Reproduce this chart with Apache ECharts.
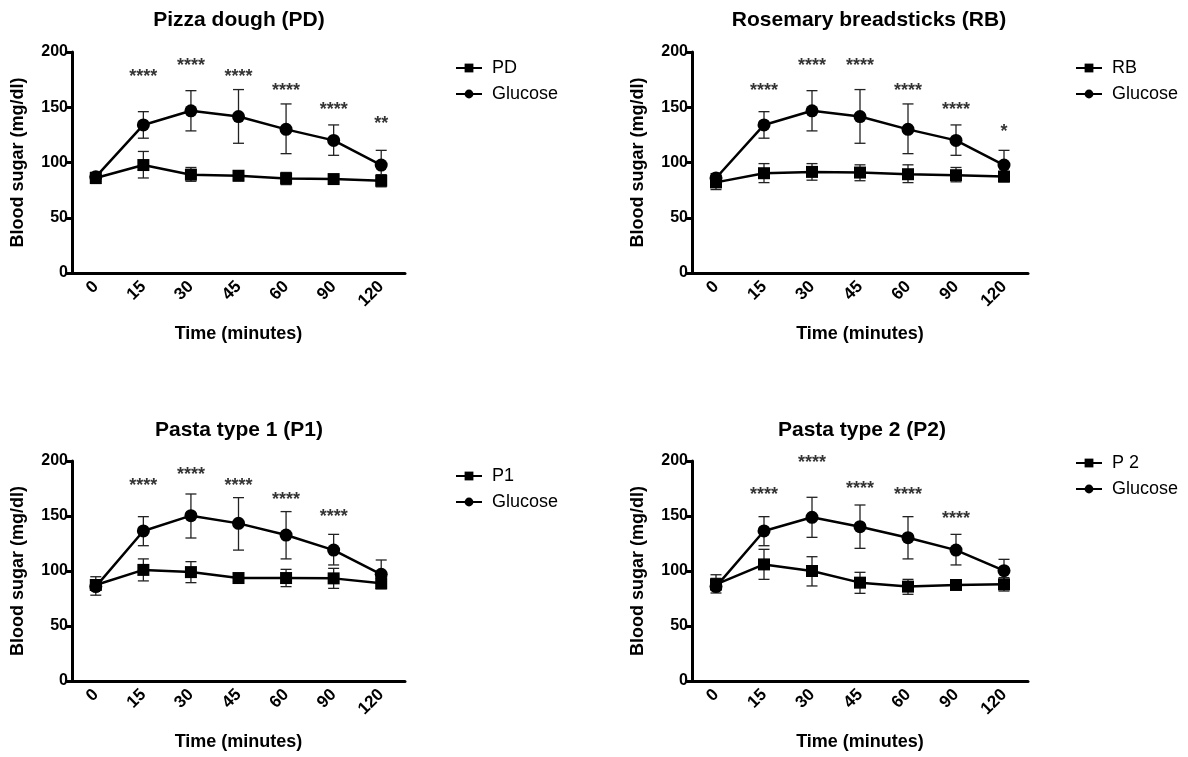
<!DOCTYPE html>
<html>
<head>
<meta charset="utf-8">
<title>Blood sugar curves</title>
<script src="https://cdn.jsdelivr.net/npm/echarts@6/dist/echarts.min.js"></script>
<style>
  html, body { margin: 0; padding: 0; background: #fff; }
  #chart { width: 1188px; height: 757px; }
</style>
</head>
<body>
<div id="chart"></div>
<script>
// x categories (minutes)
const times = ['0', '15', '30', '45', '60', '90', '120'];
const yTicks = [0, 50, 100, 150, 200];

// Pizza dough panel
const pdMean = [86, 97.7, 89, 88, 85.6, 85, 83.5];
const pdLow = [81, 86, 83, 83.5, 80, 82, 78];
const pdHigh = [91, 110, 95.5, 92.6, 91, 88, 89];
const gluc1Mean = [87, 134, 146.8, 141.6, 130, 120, 97.7];
const gluc1Low = [83, 122, 128.6, 117.4, 108, 106.5, 85];
const gluc1High = [91, 146, 165, 166, 153, 134, 111];
const stars1 = ['', '****', '****', '****', '****', '****', '**'];
const stars1At = [null, 182, 192, 182, 169, 152, 139];

// Rosemary breadsticks panel
const rbMean = [82, 90.3, 91.5, 90.9, 89.4, 88.5, 87.3];
const rbLow = [75.5, 81.8, 84, 83.5, 81.8, 82.5, 82.5];
const rbHigh = [87.6, 99, 99, 97.9, 97.9, 95.5, 91];
const gluc2Mean = [86, 134, 146.8, 141.6, 130, 120, 97.7];
const gluc2Low = [82, 122, 128.6, 117.4, 108, 106.5, 85];
const gluc2High = [90, 146, 165, 166, 153, 134, 111];
const stars2 = ['', '****', '****', '****', '****', '****', '*'];
const stars2At = [null, 169, 192, 192, 169, 152, 132];

// Pasta type 1 panel
const p1Mean = [87.3, 101, 99, 93.6, 93.6, 93.3, 88.8];
const p1Low = [83, 91, 89.4, 90, 85.8, 84.2, 84];
const p1High = [91.5, 111, 108.5, 97, 101.5, 102.4, 93.5];
const gluc3Mean = [85.8, 136.4, 150.3, 143.3, 132.7, 119, 97];
const gluc3Low = [78, 123, 130, 119, 111, 105.5, 84];
const gluc3High = [94.8, 149.4, 170, 166.7, 154, 133.3, 110];
const stars3 = ['', '****', '****', '****', '****', '****', ''];
const stars3At = [null, 182, 192, 182, 169, 154, null];

// Pasta type 2 panel
const p2Mean = [87.9, 106, 100, 89.4, 85.8, 87.3, 87.9];
const p2Low = [82.5, 92.4, 86.4, 79.7, 78.8, 84.3, 81.8];
const p2High = [93.3, 119.7, 113, 98.8, 92.4, 90.3, 94];
const gluc4Mean = [85.8, 136.4, 148.8, 140.3, 130.3, 119, 100.3];
const gluc4Low = [80, 123, 130.6, 120.6, 111, 105.5, 90.3];
const gluc4High = [96.6, 149.4, 167, 160, 149.4, 133.3, 110.6];
const stars4 = ['', '****', '****', '****', '****', '****', ''];
const stars4At = [null, 174, 203, 179, 174, 152, null];

const panels = [
  { title: 'Pizza dough (PD)', food: 'PD', mean: pdMean, low: pdLow, high: pdHigh,
    gMean: gluc1Mean, gLow: gluc1Low, gHigh: gluc1High, stars: stars1, starsAt: stars1At,
    grid: { left: 72, top: 52, width: 333, height: 221 }, titleX: 234, titleY: 5, legendX: 455, legendY: 59 },
  { title: 'Rosemary breadsticks (RB)', food: 'RB', mean: rbMean, low: rbLow, high: rbHigh,
    gMean: gluc2Mean, gLow: gluc2Low, gHigh: gluc2High, stars: stars2, starsAt: stars2At,
    grid: { left: 692, top: 52, width: 336, height: 221 }, titleX: 864, titleY: 5, legendX: 1075, legendY: 59 },
  { title: 'Pasta type 1 (P1)', food: 'P1', mean: p1Mean, low: p1Low, high: p1High,
    gMean: gluc3Mean, gLow: gluc3Low, gHigh: gluc3High, stars: stars3, starsAt: stars3At,
    grid: { left: 72, top: 461, width: 333, height: 220 }, titleX: 234, titleY: 415, legendX: 455, legendY: 467 },
  { title: 'Pasta type 2 (P2)', food: 'P 2', mean: p2Mean, low: p2Low, high: p2High,
    gMean: gluc4Mean, gLow: gluc4Low, gHigh: gluc4High, stars: stars4, starsAt: stars4At,
    grid: { left: 692, top: 461, width: 336, height: 220 }, titleX: 857, titleY: 415, legendX: 1075, legendY: 454 }
];

const FONT = 'Arial, "Liberation Sans", Helvetica, sans-serif';

function errorBarRender(params, api) {
  const x = api.value(0);
  const lo = api.coord([x, api.value(1)]);
  const hi = api.coord([x, api.value(2)]);
  const cap = 5.5;
  const style = { stroke: '#222', lineWidth: 1.3, fill: null };
  return {
    type: 'group',
    children: [
      { type: 'line', shape: { x1: hi[0], y1: hi[1], x2: lo[0], y2: lo[1] }, style: style },
      { type: 'line', shape: { x1: hi[0] - cap, y1: hi[1], x2: hi[0] + cap, y2: hi[1] }, style: style },
      { type: 'line', shape: { x1: lo[0] - cap, y1: lo[1], x2: lo[0] + cap, y2: lo[1] }, style: style }
    ]
  };
}

const option = {
  backgroundColor: '#fff',
  animation: false,
  title: [], grid: [], xAxis: [], yAxis: [], legend: [], series: []
};

panels.forEach(function (p, i) {
  option.title.push({
    text: p.title, left: p.titleX, top: p.titleY, textAlign: 'center',
    textStyle: { fontFamily: FONT, fontWeight: 'bold', fontSize: 21, color: '#000' }
  });
  option.grid.push(Object.assign({ containLabel: false }, p.grid));
  option.xAxis.push({
    type: 'category', gridIndex: i, data: times, boundaryGap: true,
    name: 'Time (minutes)', nameLocation: 'middle', nameGap: 52,
    nameTextStyle: { fontFamily: FONT, fontWeight: 'bold', fontSize: 18, color: '#000' },
    axisLine: { lineStyle: { color: '#000', width: 3 } },
    axisTick: { alignWithLabel: true, length: 6, lineStyle: { color: '#000', width: 3 } },
    axisLabel: { rotate: 45, margin: 11, fontFamily: FONT, fontWeight: 'bold', fontSize: 17, color: '#000' },
    splitLine: { show: false }
  });
  option.yAxis.push({
    type: 'value', gridIndex: i, min: yTicks[0], max: yTicks[yTicks.length - 1], interval: 50,
    name: 'Blood sugar (mg/dl)', nameLocation: 'middle', nameGap: 45, nameRotate: 90,
    nameTextStyle: { fontFamily: FONT, fontWeight: 'bold', fontSize: 18, color: '#000' },
    axisLine: { show: true, lineStyle: { color: '#000', width: 3 } },
    axisTick: { show: true, length: 6, lineStyle: { color: '#000', width: 3 } },
    axisLabel: { margin: 4, fontFamily: FONT, fontWeight: 'bold', fontSize: 16, color: '#000' },
    splitLine: { show: false }
  });
  option.legend.push({
    orient: 'vertical', left: p.legendX, top: p.legendY, padding: 0,
    itemWidth: 26, itemHeight: 11, itemGap: 8,
    data: [p.food, 'Glucose'], selectedMode: false,
    textStyle: { fontFamily: FONT, fontSize: 18, color: '#000', padding: [0, 0, 0, 5] }
  });

  // error bars
  option.series.push({
    type: 'custom', xAxisIndex: i, yAxisIndex: i, renderItem: errorBarRender, z: 1,
    data: times.map(function (t, k) { return [k, p.low[k], p.high[k]]; })
  });
  option.series.push({
    type: 'custom', xAxisIndex: i, yAxisIndex: i, renderItem: errorBarRender, z: 1,
    data: times.map(function (t, k) { return [k, p.gLow[k], p.gHigh[k]]; })
  });
  // means
  option.series.push({
    name: p.food, type: 'line', xAxisIndex: i, yAxisIndex: i, data: p.mean, z: 3,
    symbol: 'rect', symbolSize: 12, showAllSymbol: true,
    lineStyle: { color: '#000', width: 2.5 }, itemStyle: { color: '#000' }
  });
  option.series.push({
    name: 'Glucose', type: 'line', xAxisIndex: i, yAxisIndex: i, data: p.gMean, z: 3,
    symbol: 'circle', symbolSize: 13, showAllSymbol: true,
    lineStyle: { color: '#000', width: 2.5 }, itemStyle: { color: '#000' }
  });
  // significance stars
  option.series.push({
    type: 'scatter', xAxisIndex: i, yAxisIndex: i, clip: false, silent: true, z: 4,
    symbolSize: 1, itemStyle: { color: 'rgba(0,0,0,0)' },
    data: p.starsAt.map(function (v, k) { return v == null ? null : [k, v, p.stars[k]]; })
      .filter(function (d) { return d !== null; }),
    label: {
      show: true, position: 'inside', offset: [0, 5],
      formatter: function (d) { return d.value[2]; },
      fontFamily: FONT, fontWeight: 'bold', fontSize: 18, color: '#000'
    }
  });
});

const chart = echarts.init(document.getElementById('chart'));
chart.setOption(option);
</script>
</body>
</html>
